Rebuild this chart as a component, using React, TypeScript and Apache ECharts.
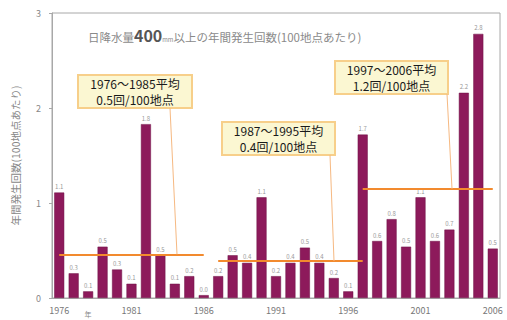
import React, { useEffect, useRef } from "react";
import * as echarts from "echarts";

const years: string[] = [
  "1976", "1977", "1978", "1979", "1980", "1981", "1982", "1983", "1984", "1985",
  "1986", "1987", "1988", "1989", "1990", "1991", "1992", "1993", "1994", "1995",
  "1996", "1997", "1998", "1999", "2000", "2001", "2002", "2003", "2004", "2005", "2006",
];
const counts: number[] = [
  1.11, 0.26, 0.07, 0.54, 0.3, 0.15, 1.83, 0.45, 0.15, 0.23,
  0.03, 0.23, 0.45, 0.37, 1.06, 0.23, 0.37, 0.53, 0.37, 0.21,
  0.07, 1.72, 0.6, 0.83, 0.54, 1.06, 0.6, 0.72, 2.16, 2.78, 0.52,
];
const periodAverages: number[] = [0.46, 0.39, 1.15];
const periodLineStart: string[] = ["1976", "1987", "1997"];
const periodLineEnd: string[] = ["1986", "1997", "2006"];
const periodTitles: string[] = ["1976～1985平均", "1987～1995平均", "1997～2006平均"];
const periodTexts: string[] = ["0.5回/100地点", "0.4回/100地点", "1.2回/100地点"];
const yTicks: number[] = [0, 1, 2, 3];

const FONT = "'Noto Sans CJK JP', 'Noto Sans', sans-serif";

export default function App() {
  const ref = useRef<HTMLDivElement>(null);
  useEffect(() => {
    if (!ref.current) return;
    const chart = echarts.init(ref.current, null, { renderer: "svg" });

    const boxes = [
      { x: 78, y: 75, w: 114, h: 33 },
      { x: 222, y: 122, w: 113, h: 33 },
      { x: 335, y: 61, w: 113, h: 33 },
    ];
    const leaders = [
      { x1: 170, y1: 108, x2: 177 },
      { x1: 330, y1: 155, x2: 334 },
      { x1: 447, y1: 94, x2: 452 },
    ];

    const option: any = {
      animation: false,
      backgroundColor: "#ffffff",
      textStyle: { fontFamily: FONT },
      grid: {
        left: 52,
        right: 7,
        top: 13,
        bottom: 22,
        show: true,
        borderColor: "#a8a8a8",
        borderWidth: 1,
        backgroundColor: "transparent",
      },
      xAxis: {
        type: "category",
        data: years,
        axisLine: { lineStyle: { color: "#a8a8a8" } },
        axisTick: { show: false },
        axisLabel: {
          interval: 4,
          color: "#777",
          fontSize: 9,
          margin: 8,
          fontFamily: FONT,
        },
      },
      yAxis: {
        type: "value",
        min: yTicks[0],
        max: yTicks[yTicks.length - 1],
        interval: 1,
        name: "年間発生回数(100地点あたり)",
        nameLocation: "middle",
        nameRotate: 90,
        nameGap: 31,
        nameTextStyle: { color: "#888", fontSize: 10.5, fontFamily: FONT },
        axisLine: { show: true, lineStyle: { color: "#a8a8a8" } },
        axisTick: { show: true, length: 3, lineStyle: { color: "#a8a8a8" } },
        splitLine: { show: false },
        axisLabel: { color: "#888", fontSize: 9, margin: 11, fontFamily: FONT },
      },
      series: [
        {
          type: "bar",
          data: counts,
          barWidth: 10,
          itemStyle: { color: "#8d1a5b", borderColor: "#6e1045", borderWidth: 0.5 },
          label: {
            show: true,
            position: "top",
            distance: 3,
            fontSize: 6,
            color: "#999",
            formatter: (p: any) => Number(p.value).toFixed(1),
          },
          markLine: {
            silent: true,
            symbol: "none",
            label: { show: false },
            lineStyle: { color: "#f28a2e", width: 2, type: "solid" },
            data: periodAverages.map((v, i) => [
              { coord: [periodLineStart[i], v] },
              { coord: [periodLineEnd[i], v] },
            ]),
          },
        },
      ],
    };
    chart.setOption(option);

    const leaderEls = leaders.map((l, i) => {
      const yEnd = chart.convertToPixel({ yAxisIndex: 0 }, periodAverages[i]) as number;
      return {
        type: "line",
        shape: { x1: l.x1, y1: l.y1, x2: l.x2, y2: yEnd },
        style: { stroke: "#f6b982", lineWidth: 1 },
        z: 50,
      };
    });
    const boxEls = boxes.map((b, i) => ({
      type: "group",
      x: b.x,
      y: b.y,
      z: 60,
      children: [
        {
          type: "rect",
          shape: { x: 0, y: 0, width: b.w, height: b.h },
          style: { fill: "#fbf7d2", stroke: "#f7cf8a", lineWidth: 2 },
        },
        {
          type: "text",
          x: b.w / 2,
          y: 8.5,
          style: {
            text: periodTitles[i],
            fill: "#1a1a1a",
            fontSize: 12,
            fontFamily: FONT,
            align: "center",
            verticalAlign: "middle",
          },
        },
        {
          type: "text",
          x: b.w / 2,
          y: 24.5,
          style: {
            text: periodTexts[i],
            fill: "#1a1a1a",
            fontSize: 12,
            fontFamily: FONT,
            align: "center",
            verticalAlign: "middle",
          },
        },
      ],
    }));

    chart.setOption({
      graphic: [
        ...leaderEls,
        ...boxEls,
        {
          type: "text",
          x: 88,
          y: 35,
          z: 60,
          style: {
            text: "{a|日降水量}{b|400}{c|mm}{a|以上の年間発生回数(100地点あたり)}",
            verticalAlign: "middle",
            rich: {
              a: { fontSize: 11.5, fill: "#8a8a8a", fontFamily: FONT, verticalAlign: "bottom" },
              b: { fontSize: 16, fill: "#555", fontFamily: FONT, fontWeight: "bold", verticalAlign: "bottom" },
              c: { fontSize: 6, fill: "#8a8a8a", fontFamily: FONT, verticalAlign: "bottom" },
            },
          },
        },
        {
          type: "text",
          x: 88,
          y: 314,
          style: { text: "年", fontSize: 7, fill: "#888", fontFamily: FONT, align: "center", verticalAlign: "middle" },
        },
      ],
    });

    return () => chart.dispose();
  }, []);
  return (
    <div
      ref={ref}
      style={{ position: "fixed", left: 0, top: 0, width: 507, height: 320, background: "#fff" }}
    />
  );
}
